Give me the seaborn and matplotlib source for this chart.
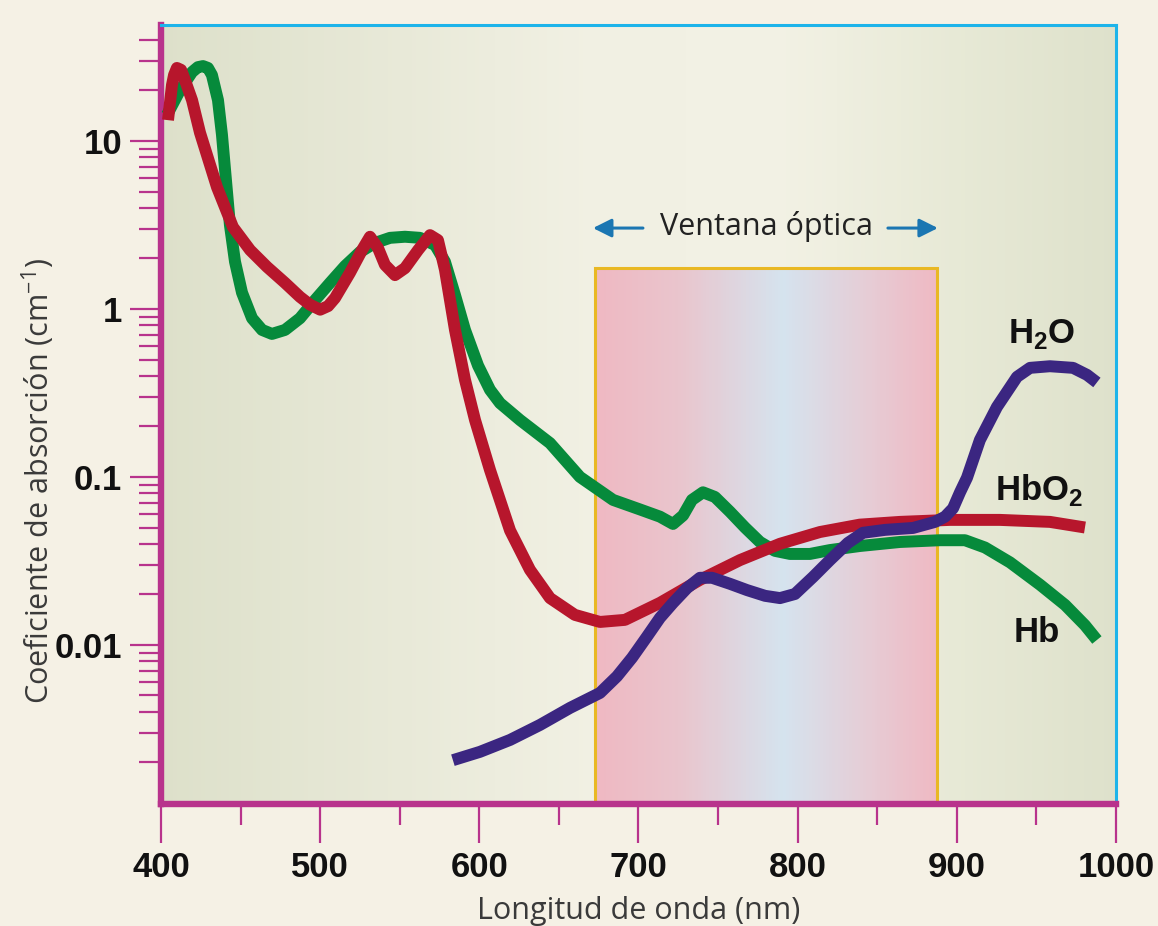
import numpy as np
import pandas as pd
import matplotlib
matplotlib.use("Agg")
import matplotlib.pyplot as plt
import seaborn as sns
from matplotlib.colors import LinearSegmentedColormap
from matplotlib.patches import Rectangle
from matplotlib.ticker import FixedLocator, FixedFormatter, LogLocator, NullFormatter

# ---------------- data ----------------
hb_nm = [403.8, 412, 419.5, 423.2, 426.4, 429.5, 432, 435.8, 438.3, 440.8, 443.3, 446.5, 450.9, 457.2,
         463.5, 469.7, 477.9, 487.3, 496.8, 506.2, 515.6, 525, 534.4, 543.9, 553.3, 562.7,
         572.2, 578.4, 584.7, 591, 599.2, 606.7, 613, 625.6, 644.4, 663.2, 684, 701, 713.5,
         721.7, 728, 733.6, 740.5, 748, 757.5, 766.9, 776.3, 785.7, 795.2, 807.7, 820.3,
         839.1, 864.3, 889.4, 905.1, 917.7, 933.4, 952.3, 968, 980.5, 988]
hb_val = [14.3, 20.1, 25.7, 27.5, 27.9, 27.2, 24.7, 17.5, 10.9, 5.86, 3.16, 1.91, 1.25, 0.88,
          0.75, 0.71, 0.75, 0.88, 1.13, 1.43, 1.80, 2.18, 2.47, 2.65, 2.69, 2.65,
          2.40, 1.91, 1.21, 0.75, 0.46, 0.33, 0.275, 0.218, 0.159, 0.10, 0.073, 0.064, 0.058,
          0.0525, 0.059, 0.073, 0.081, 0.076, 0.062, 0.050, 0.041, 0.0363, 0.0348, 0.0348, 0.0367,
          0.0388, 0.041, 0.042, 0.042, 0.038, 0.031, 0.0228, 0.0173, 0.0131, 0.0107]

hbo2_nm = [404.4, 406.9, 408.2, 410, 412.6, 415, 419.5, 424.5, 435.2, 445.2, 456, 466.6, 477.9,
           487.3, 493.6, 500, 505, 509.3, 518.7, 526.3, 531.3, 536.3, 540.7, 547, 553.3, 561.5,
           569, 574, 578.4, 584.7, 591, 597.3, 606.7, 619.3, 631.8, 644.4, 660, 675.8, 691.5,
           713.5, 738.6, 763.8, 788.9, 814, 839, 864.3, 895.7, 927, 958.5, 980.5]
hbo2_val = [13.3, 21.5, 24.7, 27.2, 26.5, 23.1, 17.5, 11.2, 5.3, 3.07, 2.24, 1.78, 1.43,
            1.18, 1.06, 0.99, 1.04, 1.16, 1.64, 2.24, 2.69, 2.31, 1.83, 1.59, 1.75, 2.24,
            2.75, 2.57, 1.71, 0.75, 0.378, 0.218, 0.110, 0.048, 0.028, 0.019, 0.0151, 0.0137,
            0.0141, 0.0178, 0.0244, 0.032, 0.040, 0.047, 0.052, 0.054, 0.0555, 0.0555, 0.054, 0.050]

h2o_nm = [583.4, 600.4, 619.3, 638.1, 657, 675.8, 686.5, 696, 705.3, 713.5, 721.7, 730.5,
          738.6, 746.2, 757.5, 768.2, 779.5, 788.9, 798.3, 809.7, 820.3, 831.6, 841, 854.9,
          872.5, 886.3, 892.6, 897.6, 902, 906.4, 914.5, 925.2, 937.8, 946, 958.5, 973,
          981.8, 988]
h2o_val = [0.00206, 0.00231, 0.00272, 0.00334, 0.00422, 0.00518, 0.0065, 0.0084, 0.0112, 0.0145,
           0.0178, 0.0218, 0.0251, 0.0251, 0.0231, 0.0212, 0.0196, 0.019, 0.0201, 0.0254, 0.032,
           0.0405, 0.0465, 0.0484, 0.0497, 0.054, 0.058, 0.065, 0.081, 0.099, 0.166, 0.261,
           0.394, 0.446, 0.456, 0.446, 0.405, 0.365]

series_names = ["Hb", "HbO2", "H2O"]
series_labels = ["Hb", r"HbO$_\mathbf{2}$", r"H$_\mathbf{2}$O"]
label_nm = [950, 952, 953.5]
label_val = [0.0104, 0.0729, 0.628]

x_ticks = [400, 500, 600, 700, 800, 900, 1000]
x_minor = [450, 550, 650, 750, 850, 950]
y_ticks = [0.01, 0.1, 1, 10]
y_tick_labels = ["0.01", "0.1", "1", "10"]

window_nm = [672.7, 887.8]
window_top = 1.75
window_text = "Ventana óptica"
x_label = "Longitud de onda (nm)"
y_label = "Coeficiente de absorción (cm$^{-1}$)"

# ---------------- style ----------------
sns.set_theme(style="white")
plt.rcParams["font.family"] = ["Open Sans", "DejaVu Sans"]
plt.rcParams["mathtext.fontset"] = "custom"
plt.rcParams["mathtext.rm"] = "Open Sans"
plt.rcParams["mathtext.bf"] = "Liberation Sans:bold"

MAG = "#b8338c"
CYAN = "#1db4ea"
GOLD = "#e9b824"
colors = {"Hb": "#068a3b", "HbO2": "#b7162c", "H2O": "#3b2681"}

fig = plt.figure(figsize=(11.58, 9.26), dpi=100, facecolor="#f5f1e5")
ax = fig.add_axes([0.13903, 0.13175, 0.8247, 0.84125])
ax.set_yscale("log")
YMIN, YMAX = 0.00113, 49
XMIN, XMAX = 400, 1000

# background gradient of plot area
bg_cmap = LinearSegmentedColormap.from_list("bg", [
    (0.0, "#dde0ca"), (0.25, "#e8e9d8"), (0.45, "#f1f0e3"), (0.65, "#f2f1e4"),
    (0.83, "#e7e9d6"), (1.0, "#dee1cb")])
bx = np.linspace(XMIN, XMAX, 241)
ax.pcolormesh(bx, [YMIN, YMAX], ((bx[:-1] + bx[1:]) / 2 - XMIN)[None, :] / (XMAX - XMIN),
              cmap=bg_cmap, vmin=0, vmax=1, shading="flat", zorder=0)

# optical window
win_cmap = LinearSegmentedColormap.from_list("win", [
    (0.0, "#efb8c2"), (0.25, "#e9c5cd"), (0.55, "#d5e3ee"), (0.8, "#e6ccd5"), (1.0, "#efb9c3")])
wx = np.linspace(window_nm[0], window_nm[1], 121)
ax.pcolormesh(wx, [YMIN, window_top], (((wx[:-1] + wx[1:]) / 2 - window_nm[0]) /
              (window_nm[1] - window_nm[0]))[None, :],
              cmap=win_cmap, vmin=0, vmax=1, shading="flat", zorder=1)
ax.add_patch(Rectangle((window_nm[0], YMIN), window_nm[1] - window_nm[0], window_top - YMIN,
                       fill=False, edgecolor=GOLD, lw=2.2, zorder=1.5))

# curves
data = {"Hb": (hb_nm, hb_val), "HbO2": (hbo2_nm, hbo2_val), "H2O": (h2o_nm, h2o_val)}
for name in series_names:
    df = pd.DataFrame({"nm": data[name][0], "val": data[name][1]})
    sns.lineplot(data=df, x="nm", y="val", ax=ax, color=colors[name], lw=8.6,
                 sort=False, estimator=None, solid_capstyle="butt",
                 solid_joinstyle="round", zorder=3)

for lab, xn, yv in zip(series_labels, label_nm, label_val):
    ax.text(xn, yv, lab, ha="center", va="baseline", fontsize=25, fontweight="bold",
            family="Liberation Sans", color="#111111", zorder=4)

# window annotation
ax.text(780.7, 2.75, window_text, ha="center", va="baseline", fontsize=22,
        color="#222222", zorder=4)
arrow_kw = dict(arrowstyle="-|>", color="#1b76b2", lw=2.2, mutation_scale=28,
                shrinkA=0, shrinkB=0)
ax.annotate("", xy=(671.4, 3.03), xytext=(702.8, 3.03), arrowprops=arrow_kw, zorder=4)
ax.annotate("", xy=(888.1, 3.03), xytext=(856.7, 3.03), arrowprops=arrow_kw, zorder=4)

# axes limits and ticks
ax.set_xlim(XMIN, XMAX)
ax.set_ylim(YMIN, YMAX)
ax.xaxis.set_major_locator(FixedLocator(x_ticks))
ax.xaxis.set_minor_locator(FixedLocator(x_minor))
ax.yaxis.set_major_locator(FixedLocator(y_ticks))
ax.yaxis.set_major_formatter(FixedFormatter(y_tick_labels))
ax.yaxis.set_minor_locator(LogLocator(base=10, subs=np.arange(2, 10), numticks=50))
ax.yaxis.set_minor_formatter(NullFormatter())

ax.tick_params(axis="both", which="both", direction="out", color=MAG, width=1.6,
               left=True, bottom=True)
ax.tick_params(axis="y", which="major", length=22, pad=6)
ax.tick_params(axis="y", which="minor", length=16)
ax.tick_params(axis="x", which="major", length=28, pad=6)
ax.tick_params(axis="x", which="minor", length=15)
ax.tick_params(axis="both", which="major", labelsize=25,
               labelfontfamily="Liberation Sans", labelcolor="#111111")
for lbl in ax.get_xticklabels() + ax.get_yticklabels():
    lbl.set_fontweight("bold")

for side in ["left", "bottom"]:
    ax.spines[side].set_color(MAG)
    ax.spines[side].set_linewidth(4.6)
for side in ["top", "right"]:
    ax.spines[side].set_color(CYAN)
    ax.spines[side].set_linewidth(2.2)

ax.set_xlabel(x_label, fontsize=22, color="#3a3a3a")
ax.set_ylabel(y_label, fontsize=22, color="#3a3a3a")
ax.xaxis.set_label_coords(0.5, -0.1480)
ax.xaxis.label.set_va("baseline")
ax.yaxis.set_label_coords(-0.1290, 0.4146)
ax.yaxis.label.set_va("center")

fig.savefig("out.png", dpi=100, facecolor=fig.get_facecolor())
